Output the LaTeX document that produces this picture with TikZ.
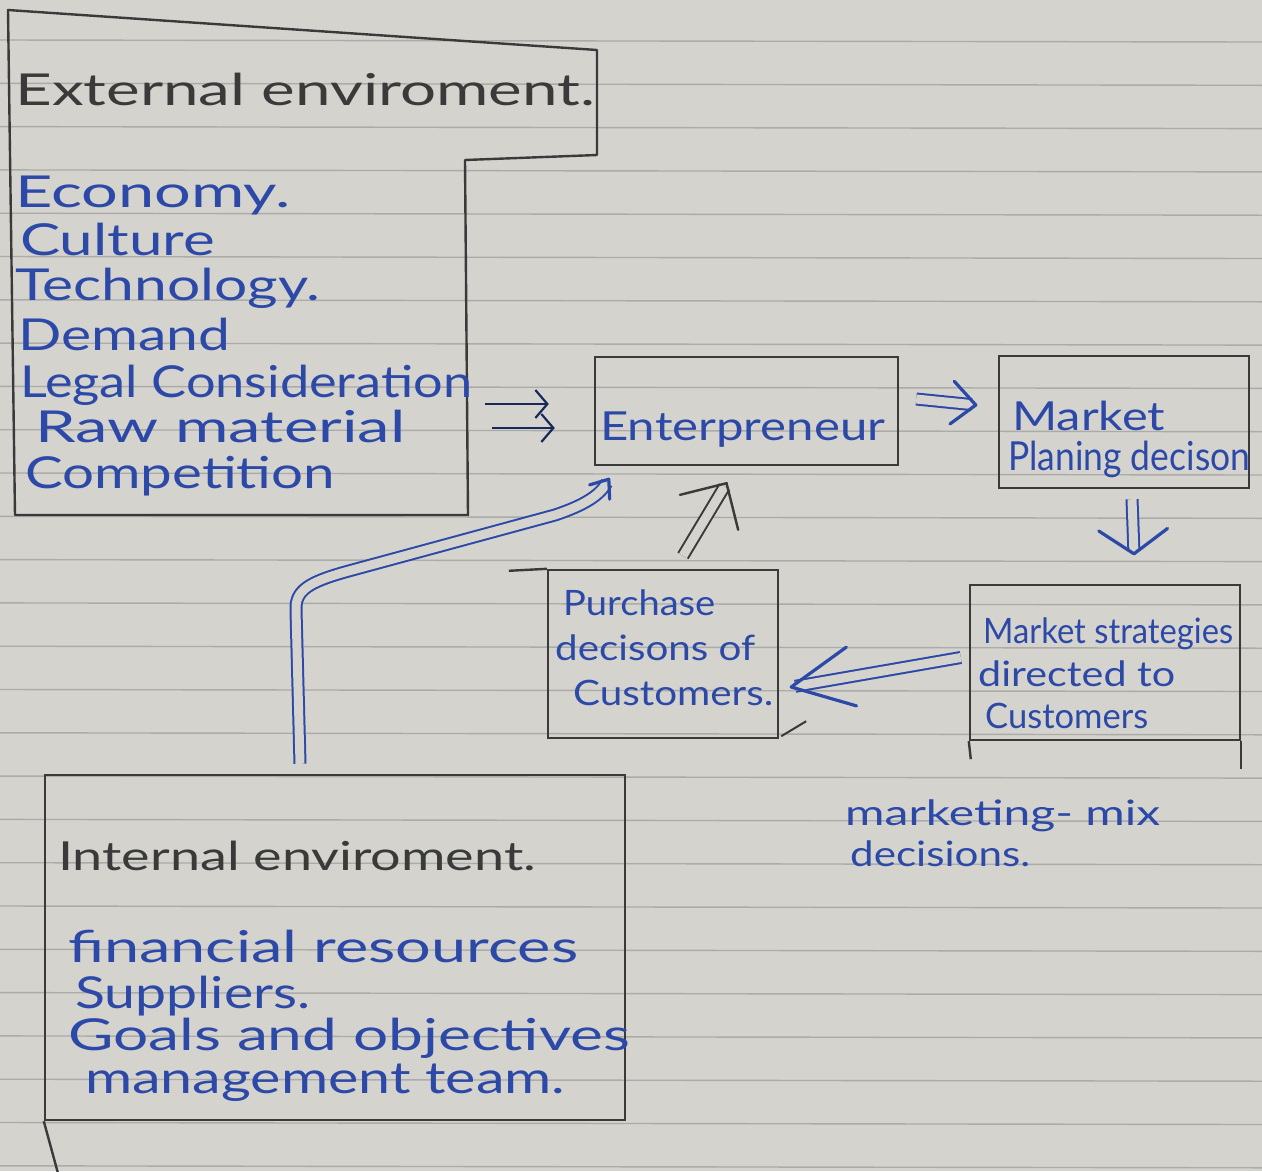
\documentclass[tikz,border=0pt]{standalone}
\usepackage{fontspec}
\setmainfont{Lato}
\usetikzlibrary{arrows.meta,calc}
\definecolor{paper}{HTML}{D4D3CE}
\definecolor{rulecol}{HTML}{ABABA7}
\definecolor{ink}{HTML}{2C49A8}
\definecolor{pencil}{HTML}{3A3A3A}
\newcommand{\hw}[2]{\resizebox{#1pt}{\height}{#2}}
% chevron tip: #1 style, #2 tip coordinate, #3 coordinate behind, #4 arm length, #5 half angle
\newcommand{\chev}[5]{\draw[#1] ($(#2)!#4!#5:(#3)$) -- (#2) -- ($(#2)!#4!-#5:(#3)$);}
\begin{document}
\begin{tikzpicture}[x=1pt,y=-1pt,
  box/.style={draw=pencil,line width=2.4pt,inner sep=0pt},
  tb/.style={anchor=base west,inner sep=0pt,text=ink},
  tk/.style={anchor=base west,inner sep=0pt,text=pencil},
  big/.style={font=\fontsize{44}{44}\selectfont},
  mid/.style={font=\fontsize{40}{40}\selectfont},
  sml/.style={font=\fontsize{35}{35}\selectfont},
  dbl/.style={draw=ink,line width=2pt,double=paper,double distance=9pt,line join=round,shorten >=4pt},
  dblk/.style={draw=pencil,line width=2pt,double=paper,double distance=9pt,line join=round,shorten >=4pt},
  tipb/.style={draw=ink,line width=3.2pt,line cap=round,line join=round},
  tipk/.style={draw=pencil,line width=2.4pt,line cap=round,line join=miter},
  thinarr/.style={draw=ink!55!black,line width=2.2pt,-{Straight Barb[length=12pt,width=28pt]}}
]
\fill[paper] (0,0) rectangle (1262,1171);
\useasboundingbox (0,0) rectangle (1262,1171);
\foreach \k in {0,...,26}
  \draw[rulecol,line width=1.4pt] (0,{40+43.3*\k}) -- (1262,{42+43.3*\k});

% External environment (drawn shape)
\draw[pencil,line width=2.4pt,line join=round] (8,10) -- (597,50) -- (597,155) -- (465,160) -- (468,515) -- (15,515) -- cycle;
\coordinate (extE) at (468,416);

% boxes
\node[box,minimum width=303,minimum height=108] (ent) at (746.5,411) {};
\node[box,minimum width=250,minimum height=132] (mkt) at (1124,422) {};
\node[box,minimum width=230,minimum height=168] (pur) at (663,654) {};
\node[box,minimum width=270,minimum height=155] (str) at (1105,662.5) {};
\node[box,minimum width=580,minimum height=345] (int) at (335,947.5) {};

% small extra strokes
\draw[pencil,line width=2.4pt] (pur.north west) -- ++(-38,2);
\draw[pencil,line width=2pt] ([shift={(2,-3)}]pur.south east) -- ++(25,-15);
\draw[pencil,line width=2.4pt] (str.south east) -- ++(0,28);
\draw[pencil,line width=2.4pt] (str.south west) -- ++(2,18);
\draw[pencil,line width=2.4pt] (int.south west) -- ++(15,55);

% texts
\node[tk,big] (xt) at (15,105) {\hw{580}{External enviroment.}};
\node[tb,big] (x1) at (15,207) {\hw{275}{Economy.}};
\node[tb,big] (x2) at (20,255) {\hw{195}{Culture}};
\node[tb,big] (x3) at (15,300) {\hw{305}{Technology.}};
\node[tb,big] (x4) at (18,350) {\hw{212}{Demand}};
\node[tb,big] (x5) at (20,397) {\hw{452}{Legal Consideration}};
\node[tb,big] (x6) at (35,442) {\hw{370}{Raw material}};
\node[tb,big] (x7) at (25,488) {\hw{310}{Competition}};

\node[tb,mid] (et) at (600,440) {\hw{285}{Enterpreneur}};
\node[tb,mid] (m1) at (1012,430) {\hw{153}{Market}};
\node[tb,mid] (m2) at (1008,470) {\hw{242}{Planing decison}};

\node[tb,sml] (p1) at (563,615) {\hw{152}{Purchase}};
\node[tb,sml] (p2) at (555,660) {\hw{200}{decisons of}};
\node[tb,sml] (p3) at (573,705) {\hw{200}{Customers.}};

\node[tb,sml] (s1) at (983,643) {\hw{250}{Market strategies}};
\node[tb,sml] (s2) at (978,686) {\hw{197}{directed to}};
\node[tb,sml] (s3) at (985,728) {\hw{163}{Customers}};

\node[tb,sml] (k1) at (845,825) {\hw{315}{marketing- mix}};
\node[tb,sml] (k2) at (850,866) {\hw{180}{decisions.}};

\node[tk,mid] (it) at (58,870) {\hw{478}{Internal enviroment.}};
\node[tb,big] (i1) at (68,962) {\hw{510}{financial resources}};
\node[tb,big] (i2) at (75,1008) {\hw{235}{Suppliers.}};
\node[tb,big] (i3) at (68,1050) {\hw{562}{Goals and objectives}};
\node[tb,big] (i4) at (85,1093) {\hw{480}{management team.}};

% connector end points
\coordinate (a1s) at ([shift={(17,-12)}]ent.east);
\coordinate (a1e) at ([shift={(-22,-17)}]mkt.west);
\coordinate (a2s) at ([shift={(8,10)}]mkt.south);
\coordinate (a2e) at ([shift={(29,-30)}]str.north);
\coordinate (a3s) at ([shift={(-8,-5)}]str.west);
\coordinate (a3e) at ([shift={(12,33)}]pur.east);
\coordinate (a4s) at ([shift={(20,-13)}]pur.north);
\coordinate (a4e) at ([shift={(-20,17)}]ent.south);
\coordinate (a5s) at ([shift={(-35,-10)}]int.north);
\coordinate (a5e) at ([shift={(15,13)}]ent.south west);
\coordinate (a5p) at ([shift={(-20,28)}]a5e);

% connectors
\draw[thinarr] ([shift={(17,-12)}]extE) -- ([shift={(-45,-7)}]ent.west);
\draw[thinarr] ([shift={(24,12)}]extE) -- ([shift={(-39,17)}]ent.west);

\draw[dbl] (a1s) -- (a1e);
\chev{tipb}{a1e}{a1s}{32pt}{42}
\draw[dbl] (a2s) -- (a2e);
\chev{tipb}{a2e}{a2s}{42pt}{55}
\draw[dbl] (a3s) -- (a3e);
\chev{tipb}{a3e}{a3s}{68pt}{26}
\draw[dblk] (a4s) -- (a4e);
\chev{tipk}{a4e}{a4s}{48pt}{45}
\draw[dbl] (a5s) -- (296,610) .. controls (295,590) and (310,582) .. (345,572) -- (555,515) .. controls (585,505) and (600,495) .. (a5e);
\chev{tipb}{a5e}{a5p}{20pt}{38}
\end{tikzpicture}
\end{document}
